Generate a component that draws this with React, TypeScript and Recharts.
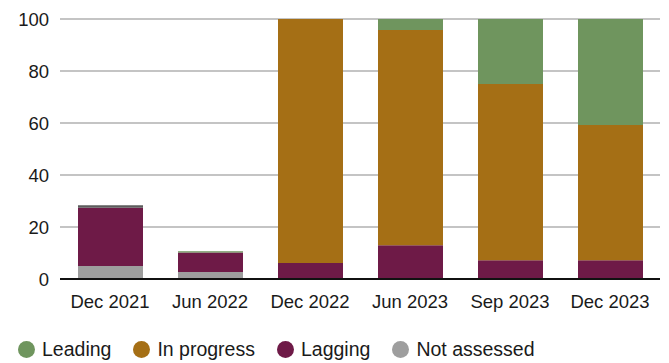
import React from "react";
import { BarChart, Bar, XAxis, YAxis, CartesianGrid, Legend, ReferenceLine } from "recharts";

const categories = ["Dec 2021", "Jun 2022", "Dec 2022", "Jun 2023", "Sep 2023", "Dec 2023"];
const notAssessed = [5, 2.7, 0, 0, 0, 0];
const lagging = [22.4, 7.5, 6.2, 13, 7.2, 7.2];
const other = [1, 0, 0, 0, 0, 0];
const inProgress = [0, 0, 93.8, 82.8, 67.8, 52];
const leading = [0, 0.5, 0, 4.2, 25, 40.8];
const yTicks = [0, 20, 40, 60, 80, 100];

const data = categories.map((c, i) => ({
  name: c,
  notAssessed: notAssessed[i],
  lagging: lagging[i],
  other: other[i],
  inProgress: inProgress[i],
  leading: leading[i],
}));

const legendItems = [
  { label: "Leading", color: "#6f955e" },
  { label: "In progress", color: "#a56f15" },
  { label: "Lagging", color: "#6e1a47" },
  { label: "Not assessed", color: "#9e9e9e" },
];

const FONT = "'Liberation Sans', Arial, Helvetica, sans-serif";

const CustomLegend = () => (
  <div style={{ display: "flex", alignItems: "center", height: 30, paddingLeft: 18, fontFamily: FONT, fontSize: 19.5, color: "#1a1a1a" }}>
    {legendItems.map((it) => (
      <div key={it.label} style={{ display: "flex", alignItems: "center", marginRight: 22 }}>
        <span style={{ width: 17, height: 17, borderRadius: 9, background: it.color, display: "inline-block", marginRight: 7 }} />
        <span>{it.label}</span>
      </div>
    ))}
  </div>
);

export default function App() {
  return (
    <div style={{ position: "absolute", left: 0, top: 0, background: "#fff" }}>
      <BarChart width={669} height={363} data={data} margin={{ top: 19, right: 9, left: 0, bottom: 14 }}>
        <CartesianGrid vertical={false} stroke="#b0b0b0" strokeWidth={1.5} />
        <XAxis
          dataKey="name"
          axisLine={false}
          tickLine={false}
          height={40}
          tickMargin={10}
          tick={{ fill: "#1a1a1a", fontSize: 18.5, fontFamily: FONT }}
        />
        <YAxis
          domain={[0, 100]}
          ticks={yTicks}
          axisLine={false}
          tickLine={false}
          width={60}
          tickMargin={5}
          tick={{ fill: "#1a1a1a", fontSize: 18.5, fontFamily: FONT }}
        />
        <Bar dataKey="notAssessed" stackId="a" fill="#9e9e9e" barSize={65} isAnimationActive={false} />
        <Bar dataKey="lagging" stackId="a" fill="#6e1a47" barSize={65} isAnimationActive={false} />
        <Bar dataKey="other" stackId="a" fill="#5c5c5c" barSize={65} legendType="none" isAnimationActive={false} />
        <Bar dataKey="inProgress" stackId="a" fill="#a56f15" barSize={65} isAnimationActive={false} />
        <Bar dataKey="leading" stackId="a" fill="#6f955e" barSize={65} isAnimationActive={false} />
        <ReferenceLine y={0} stroke="#111" strokeWidth={2} />
        <Legend
          verticalAlign="bottom"
          content={<CustomLegend />}
          wrapperStyle={{ top: 334, left: 0, bottom: "auto", width: 669 }}
        />
      </BarChart>
    </div>
  );
}
